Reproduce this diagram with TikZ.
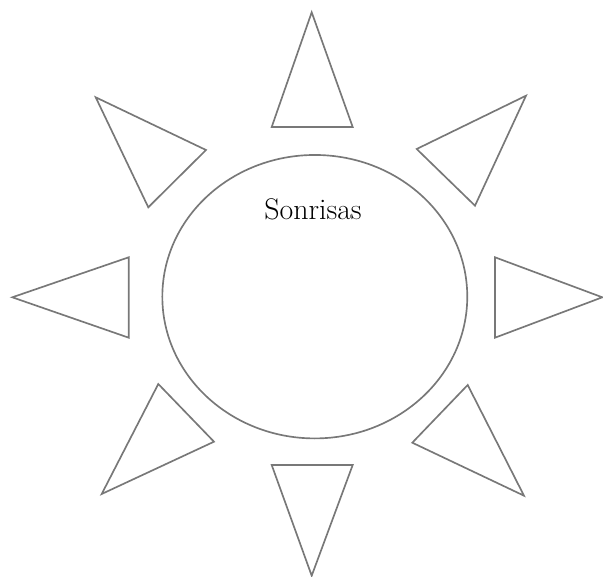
\documentclass[tikz,border=0pt]{standalone}
\usepackage{tikz}
\usetikzlibrary{shapes.geometric, positioning, calc}
\definecolor{solgray}{RGB}{120, 120, 120}

\begin{document}
\begin{tikzpicture}[
    x=0.02cm, y=-0.02cm,
    centro/.style={ellipse, draw=solgray, line width=0.95pt, minimum width=6.1cm, minimum height=5.67cm, inner sep=0pt},
    rayo/.style={draw=solgray, line width=0.95pt, line join=miter},
    etiqueta/.style={font=\fontsize{17}{20}\selectfont, text=black}
]
\useasboundingbox (0,0) rectangle (603,577);

% El sol y su texto
\node[centro] (sol) at (314.8,296.7) {};
\node[etiqueta, anchor=base] (titulo) at ($(sol.north)+(-1.8,65)$) {Sonrisas};

% Rayos horizontales y verticales
\draw[rayo] (271.7,127) -- (352.7,127) -- (311.7,12.3) -- cycle;
\draw[rayo] (271.7,465) -- (352.7,465) -- (311.7,575.7) -- cycle;
\draw[rayo] (128.7,257.3) -- (128.7,337.7) -- (12.3,297.3) -- cycle;
\draw[rayo] (495,257.3) -- (495,337.7) -- (602.3,297.3) -- cycle;

% Rayos diagonales
\draw[rayo] (206,150) -- (148.3,207.3) -- (95.7,97.3) -- cycle;
\draw[rayo] (416.7,149) -- (475,205.7) -- (526,95.7) -- cycle;
\draw[rayo] (158.3,384) -- (214,441.7) -- (101.7,494) -- cycle;
\draw[rayo] (467.7,385) -- (412.3,442.7) -- (524,495.7) -- cycle;

\end{tikzpicture}
\end{document}
